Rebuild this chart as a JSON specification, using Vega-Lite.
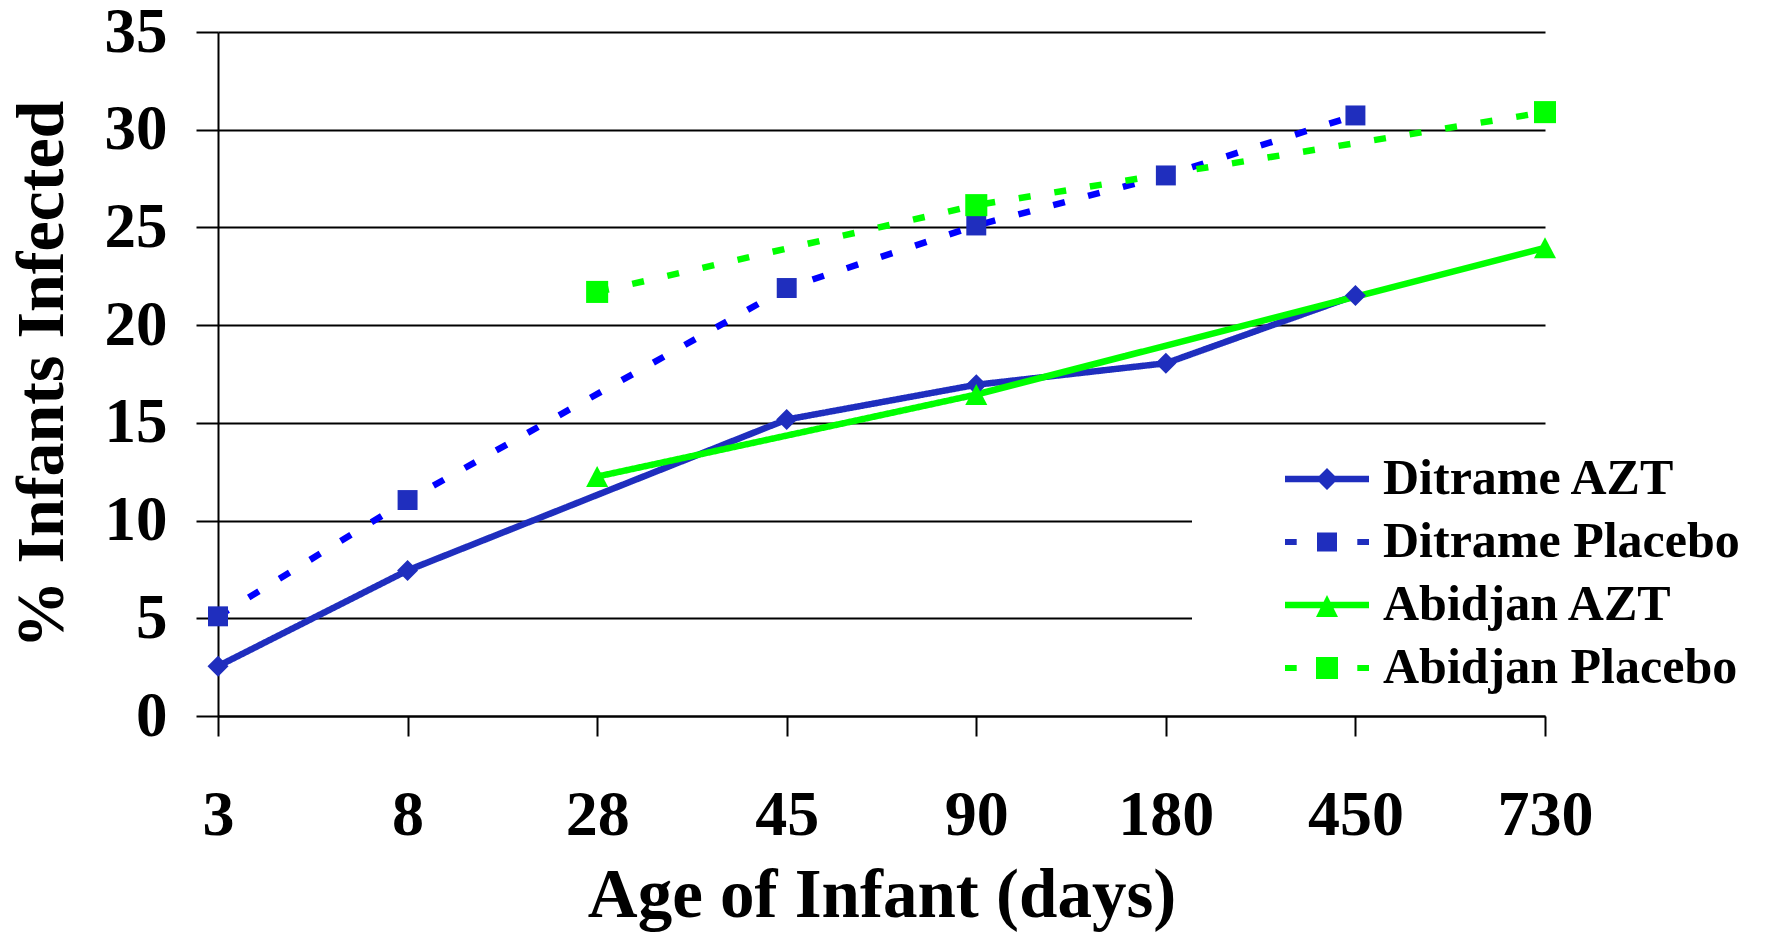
{
  "$schema": "https://vega.github.io/schema/vega-lite/v6.json",
  "width": 1327,
  "height": 684,
  "autosize": {"type": "none"},
  "padding": {"left": 218, "top": 32, "right": 223, "bottom": 218},
  "background": "white",
  "config": {
    "view": {"stroke": null},
    "axis": {
      "labelFont": "Liberation Serif",
      "labelFontWeight": "bold",
      "labelColor": "black",
      "titleFont": "Liberation Serif",
      "titleFontWeight": "bold",
      "titleColor": "black",
      "domainColor": "black",
      "domainWidth": 2,
      "tickColor": "black",
      "tickWidth": 2
    },
    "legend": {
      "labelFont": "Liberation Serif",
      "labelFontWeight": "bold",
      "labelColor": "black"
    }
  },
  "data": {
    "values": [
      {"series": "Ditrame AZT", "day": 3, "pct": 2.55},
      {"series": "Ditrame AZT", "day": 8, "pct": 7.45},
      {"series": "Ditrame AZT", "day": 45, "pct": 15.17},
      {"series": "Ditrame AZT", "day": 90, "pct": 16.95},
      {"series": "Ditrame AZT", "day": 180, "pct": 18.05},
      {"series": "Ditrame AZT", "day": 450, "pct": 21.52},
      {"series": "Ditrame Placebo", "day": 3, "pct": 5.1},
      {"series": "Ditrame Placebo", "day": 8, "pct": 11.05},
      {"series": "Ditrame Placebo", "day": 45, "pct": 21.9},
      {"series": "Ditrame Placebo", "day": 90, "pct": 25.1},
      {"series": "Ditrame Placebo", "day": 180, "pct": 27.66},
      {"series": "Ditrame Placebo", "day": 450, "pct": 30.73},
      {"series": "Abidjan AZT", "day": 28, "pct": 12.25},
      {"series": "Abidjan AZT", "day": 90, "pct": 16.45},
      {"series": "Abidjan AZT", "day": 730, "pct": 23.96},
      {"series": "Abidjan Placebo", "day": 28, "pct": 21.7},
      {"series": "Abidjan Placebo", "day": 90, "pct": 26.14},
      {"series": "Abidjan Placebo", "day": 730, "pct": 30.9}
    ]
  },
  "encoding": {
    "x": {
      "field": "day",
      "type": "ordinal",
      "scale": {"type": "point", "padding": 0, "domain": [3, 8, 28, 45, 90, 180, 450, 730]},
      "axis": {
        "title": "Age of Infant (days)",
        "labelAngle": 0,
        "grid": false,
        "tickSize": 20,
        "labelFontSize": 64,
        "labelPadding": 98,
        "labelBaseline": "alphabetic",
        "titleFontSize": 69,
        "titleY": 200,
        "titleBaseline": "alphabetic"
      }
    },
    "y": {
      "field": "pct",
      "type": "quantitative",
      "scale": {"domain": [0, 35], "nice": false},
      "axis": {
        "title": "% Infants Infected",
        "values": [0, 5, 10, 15, 20, 25, 30, 35],
        "grid": true,
        "gridColor": "black",
        "gridWidth": 2,
        "gridOpacity": 1,
        "tickSize": 22,
        "labelFontSize": 63,
        "labelPadding": 29,
        "titleFontSize": 68,
        "titleX": -156,
        "titleBaseline": "alphabetic"
      }
    }
  },
  "layer": [
    {
      "mark": {"type": "line", "strokeWidth": 6.5},
      "encoding": {
        "color": {
          "field": "series",
          "type": "nominal",
          "scale": {
            "domain": ["Ditrame AZT", "Ditrame Placebo", "Abidjan AZT", "Abidjan Placebo"],
            "range": ["#1F2EBE", "#0000FF", "#00FF00", "#00FF00"]
          },
          "legend": null
        },
        "strokeDash": {
          "field": "series",
          "type": "nominal",
          "scale": {
            "domain": ["Ditrame AZT", "Ditrame Placebo", "Abidjan AZT", "Abidjan Placebo"],
            "range": [[1, 0], [12, 24], [1, 0], [12, 24]]
          },
          "legend": null
        }
      }
    },
    {
      "mark": {"type": "point", "filled": true, "opacity": 1, "size": 441, "strokeWidth": 0},
      "encoding": {
        "fill": {
          "field": "series",
          "type": "nominal",
          "scale": {
            "domain": ["Ditrame AZT", "Ditrame Placebo", "Abidjan AZT", "Abidjan Placebo"],
            "range": ["#1F2EBE", "#1F2EBE", "#00FF00", "#00FF00"]
          },
          "legend": null
        },
        "shape": {
          "field": "series",
          "type": "nominal",
          "scale": {
            "domain": ["Ditrame AZT", "Ditrame Placebo", "Abidjan AZT", "Abidjan Placebo"],
            "range": [
              "M0,-1L1,0L0,1L-1,0Z",
              "M-0.95,-0.95H0.95V0.95H-0.95Z",
              "M0,-1L1.05,1L-1.05,1Z",
              "M-1.05,-1.05H1.05V1.05H-1.05Z"
            ]
          },
          "legend": null
        }
      }
    },
    {
      "mark": {"type": "point", "filled": true, "opacity": 0, "size": 10},
      "encoding": {
        "fill": {
          "field": "series",
          "type": "nominal",
          "scale": {
            "domain": ["Ditrame AZT", "Ditrame Placebo", "Abidjan AZT", "Abidjan Placebo"],
            "range": ["#1F2EBE", "#1F2EBE", "#00FF00", "#00FF00"]
          },
          "legend": {
            "title": null,
            "orient": "none",
            "legendX": 974,
            "legendY": 412,
            "padding": 10,
            "fillColor": "white",
            "symbolSize": 2500,
            "symbolStrokeWidth": 0,
            "symbolOpacity": 1,
            "symbolOffset": 100,
            "labelOffset": 31,
            "labelFontSize": 50,
            "labelLimit": 600,
            "labelBaseline": "middle",
            "rowPadding": 13
          }
        },
        "shape": {
          "field": "series",
          "type": "nominal",
          "scale": {
            "domain": ["Ditrame AZT", "Ditrame Placebo", "Abidjan AZT", "Abidjan Placebo"],
            "range": [
              "M-1.68,-0.127H1.68V0.127H-1.68Z M0,-0.44L0.44,0L0,0.44L-0.44,0Z",
              "M-1.68,-0.122H-1.212V0.122H-1.68Z M1.212,-0.122H1.68V0.122H1.212Z M-0.4,-0.382H0.4V0.382H-0.4Z",
              "M-1.68,-0.127H1.68V0.127H-1.68Z M0,-0.4L0.44,0.48L-0.44,0.48Z",
              "M-1.68,-0.122H-1.212V0.122H-1.68Z M1.212,-0.122H1.68V0.122H1.212Z M-0.44,-0.44H0.44V0.44H-0.44Z"
            ]
          },
          "legend": {
            "title": null,
            "orient": "none",
            "legendX": 974,
            "legendY": 412,
            "padding": 10,
            "fillColor": "white",
            "symbolSize": 2500,
            "symbolStrokeWidth": 0,
            "symbolOpacity": 1,
            "symbolOffset": 100,
            "labelOffset": 31,
            "labelFontSize": 50,
            "labelLimit": 600,
            "labelBaseline": "middle",
            "rowPadding": 13
          }
        }
      }
    }
  ],
  "resolve": {"scale": {"fill": "independent", "shape": "independent"}}
}
